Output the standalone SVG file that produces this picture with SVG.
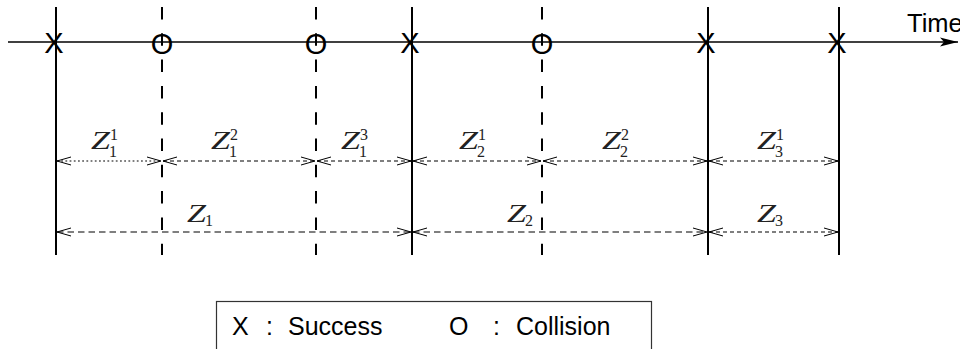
<svg xmlns="http://www.w3.org/2000/svg" width="960" height="349" viewBox="0 0 960 349">
<style>
.solid{stroke:#000;stroke-width:2;fill:none}
.dash{stroke:#000;stroke-width:2;fill:none;stroke-dasharray:12.5 13.8;stroke-dashoffset:0}
.arr{stroke:#000;stroke-width:1.1;fill:none;marker-start:url(#v);marker-end:url(#v)}
.d1{stroke-dasharray:4 3}
.dot{stroke-dasharray:1.8 2.4}
.d2{stroke-dasharray:6.5 4}
.mk{font-family:"Liberation Sans",Arial,sans-serif;font-size:29px;fill:#000;text-anchor:middle}
.z{font-family:"Liberation Serif","Times New Roman",serif;font-style:italic;font-size:26px;fill:#222}
.s{font-family:"Liberation Serif","Times New Roman",serif;font-size:16px;fill:#222}
.lg{font-family:"Liberation Sans",Arial,sans-serif;font-size:25px;fill:#000}
</style>
<defs>
<marker id="v" markerUnits="userSpaceOnUse" markerWidth="16" markerHeight="12" refX="14" refY="6" orient="auto-start-reverse" overflow="visible">
<path d="M0,2 L14,6 L0,10" fill="none" stroke="#000" stroke-width="1"/>
</marker>
<marker id="ta" markerUnits="userSpaceOnUse" markerWidth="20" markerHeight="12" refX="18" refY="6" orient="auto" overflow="visible">
<path d="M0,1.5 L18,6 L0,10.5 L4,6 Z" fill="#000"/>
</marker>
</defs>

<g id="axis">
<line x1="8" y1="42" x2="958" y2="42" stroke="#000" stroke-width="1.5" marker-end="url(#ta)"/>
<text x="907" y="32" font-family="Liberation Sans,Arial,sans-serif" font-size="25.5" fill="#000">Time</text>
</g>

<g id="boundaries">
<g id="s1"><line class="solid" x1="56" y1="7" x2="56" y2="255"/><text class="mk" x="54" y="53">X</text></g>
<g id="c1"><line class="dash" x1="162" y1="7" x2="162" y2="255"/><text class="mk" x="162" y="54">O</text></g>
<g id="c2"><line class="dash" x1="316" y1="7" x2="316" y2="255"/><text class="mk" x="316" y="54">O</text></g>
<g id="s2"><line class="solid" x1="412" y1="7" x2="412" y2="255"/><text class="mk" x="410" y="53">X</text></g>
<g id="c3"><line class="dash" x1="542" y1="7" x2="542" y2="255"/><text class="mk" x="542" y="54">O</text></g>
<g id="s3"><line class="solid" x1="708" y1="7" x2="708" y2="255"/><text class="mk" x="706" y="53">X</text></g>
<g id="s4"><line class="solid" x1="839" y1="7" x2="839" y2="255"/><text class="mk" x="837" y="53">X</text></g>
</g>

<g id="connectors">
<path class="arr dot" d="M57,161 H161"/>
<path class="arr d1" d="M163,161 H315"/>
<path class="arr d1" d="M317,161 H411"/>
<path class="arr d1" d="M413,161 H541"/>
<path class="arr d1" d="M543,161 H707"/>
<path class="arr d1" d="M709,161 H838"/>
<path class="arr d2" d="M57,232 H411"/>
<path class="arr d2" d="M413,232 H707"/>
<path class="arr d1" d="M709,232 H838"/>
</g>

<g id="labels">
<g id="z11"><text class="z" x="91" y="149" textLength="19" lengthAdjust="spacingAndGlyphs">Z</text><text class="s" x="110" y="140">1</text><text class="s" x="109" y="157">1</text></g>
<g id="z12"><text class="z" x="211" y="149" textLength="19" lengthAdjust="spacingAndGlyphs">Z</text><text class="s" x="230" y="140">2</text><text class="s" x="229" y="157">1</text></g>
<g id="z13"><text class="z" x="341" y="149" textLength="19" lengthAdjust="spacingAndGlyphs">Z</text><text class="s" x="360" y="140">3</text><text class="s" x="359" y="157">1</text></g>
<g id="z21"><text class="z" x="459" y="149" textLength="19" lengthAdjust="spacingAndGlyphs">Z</text><text class="s" x="478" y="140">1</text><text class="s" x="477" y="157">2</text></g>
<g id="z22"><text class="z" x="602" y="149" textLength="19" lengthAdjust="spacingAndGlyphs">Z</text><text class="s" x="621" y="140">2</text><text class="s" x="620" y="157">2</text></g>
<g id="z31"><text class="z" x="757" y="149" textLength="19" lengthAdjust="spacingAndGlyphs">Z</text><text class="s" x="776" y="140">1</text><text class="s" x="775" y="157">3</text></g>
<g id="z1"><text class="z" x="187" y="222" textLength="19" lengthAdjust="spacingAndGlyphs">Z</text><text class="s" x="205" y="226">1</text></g>
<g id="z2"><text class="z" x="507" y="222" textLength="19" lengthAdjust="spacingAndGlyphs">Z</text><text class="s" x="525" y="226">2</text></g>
<g id="z3"><text class="z" x="757" y="222" textLength="19" lengthAdjust="spacingAndGlyphs">Z</text><text class="s" x="775" y="226">3</text></g>
</g>

<g id="legend">
<rect x="216.5" y="301.5" width="435" height="60" fill="#fff" stroke="#333" stroke-width="1.2"/>
<text class="lg" y="335"><tspan x="232">X</tspan><tspan x="266">:</tspan><tspan x="288">Success</tspan></text>
<text class="lg" y="335"><tspan x="449">O</tspan><tspan x="493">:</tspan><tspan x="516">Collision</tspan></text>
</g>
</svg>
